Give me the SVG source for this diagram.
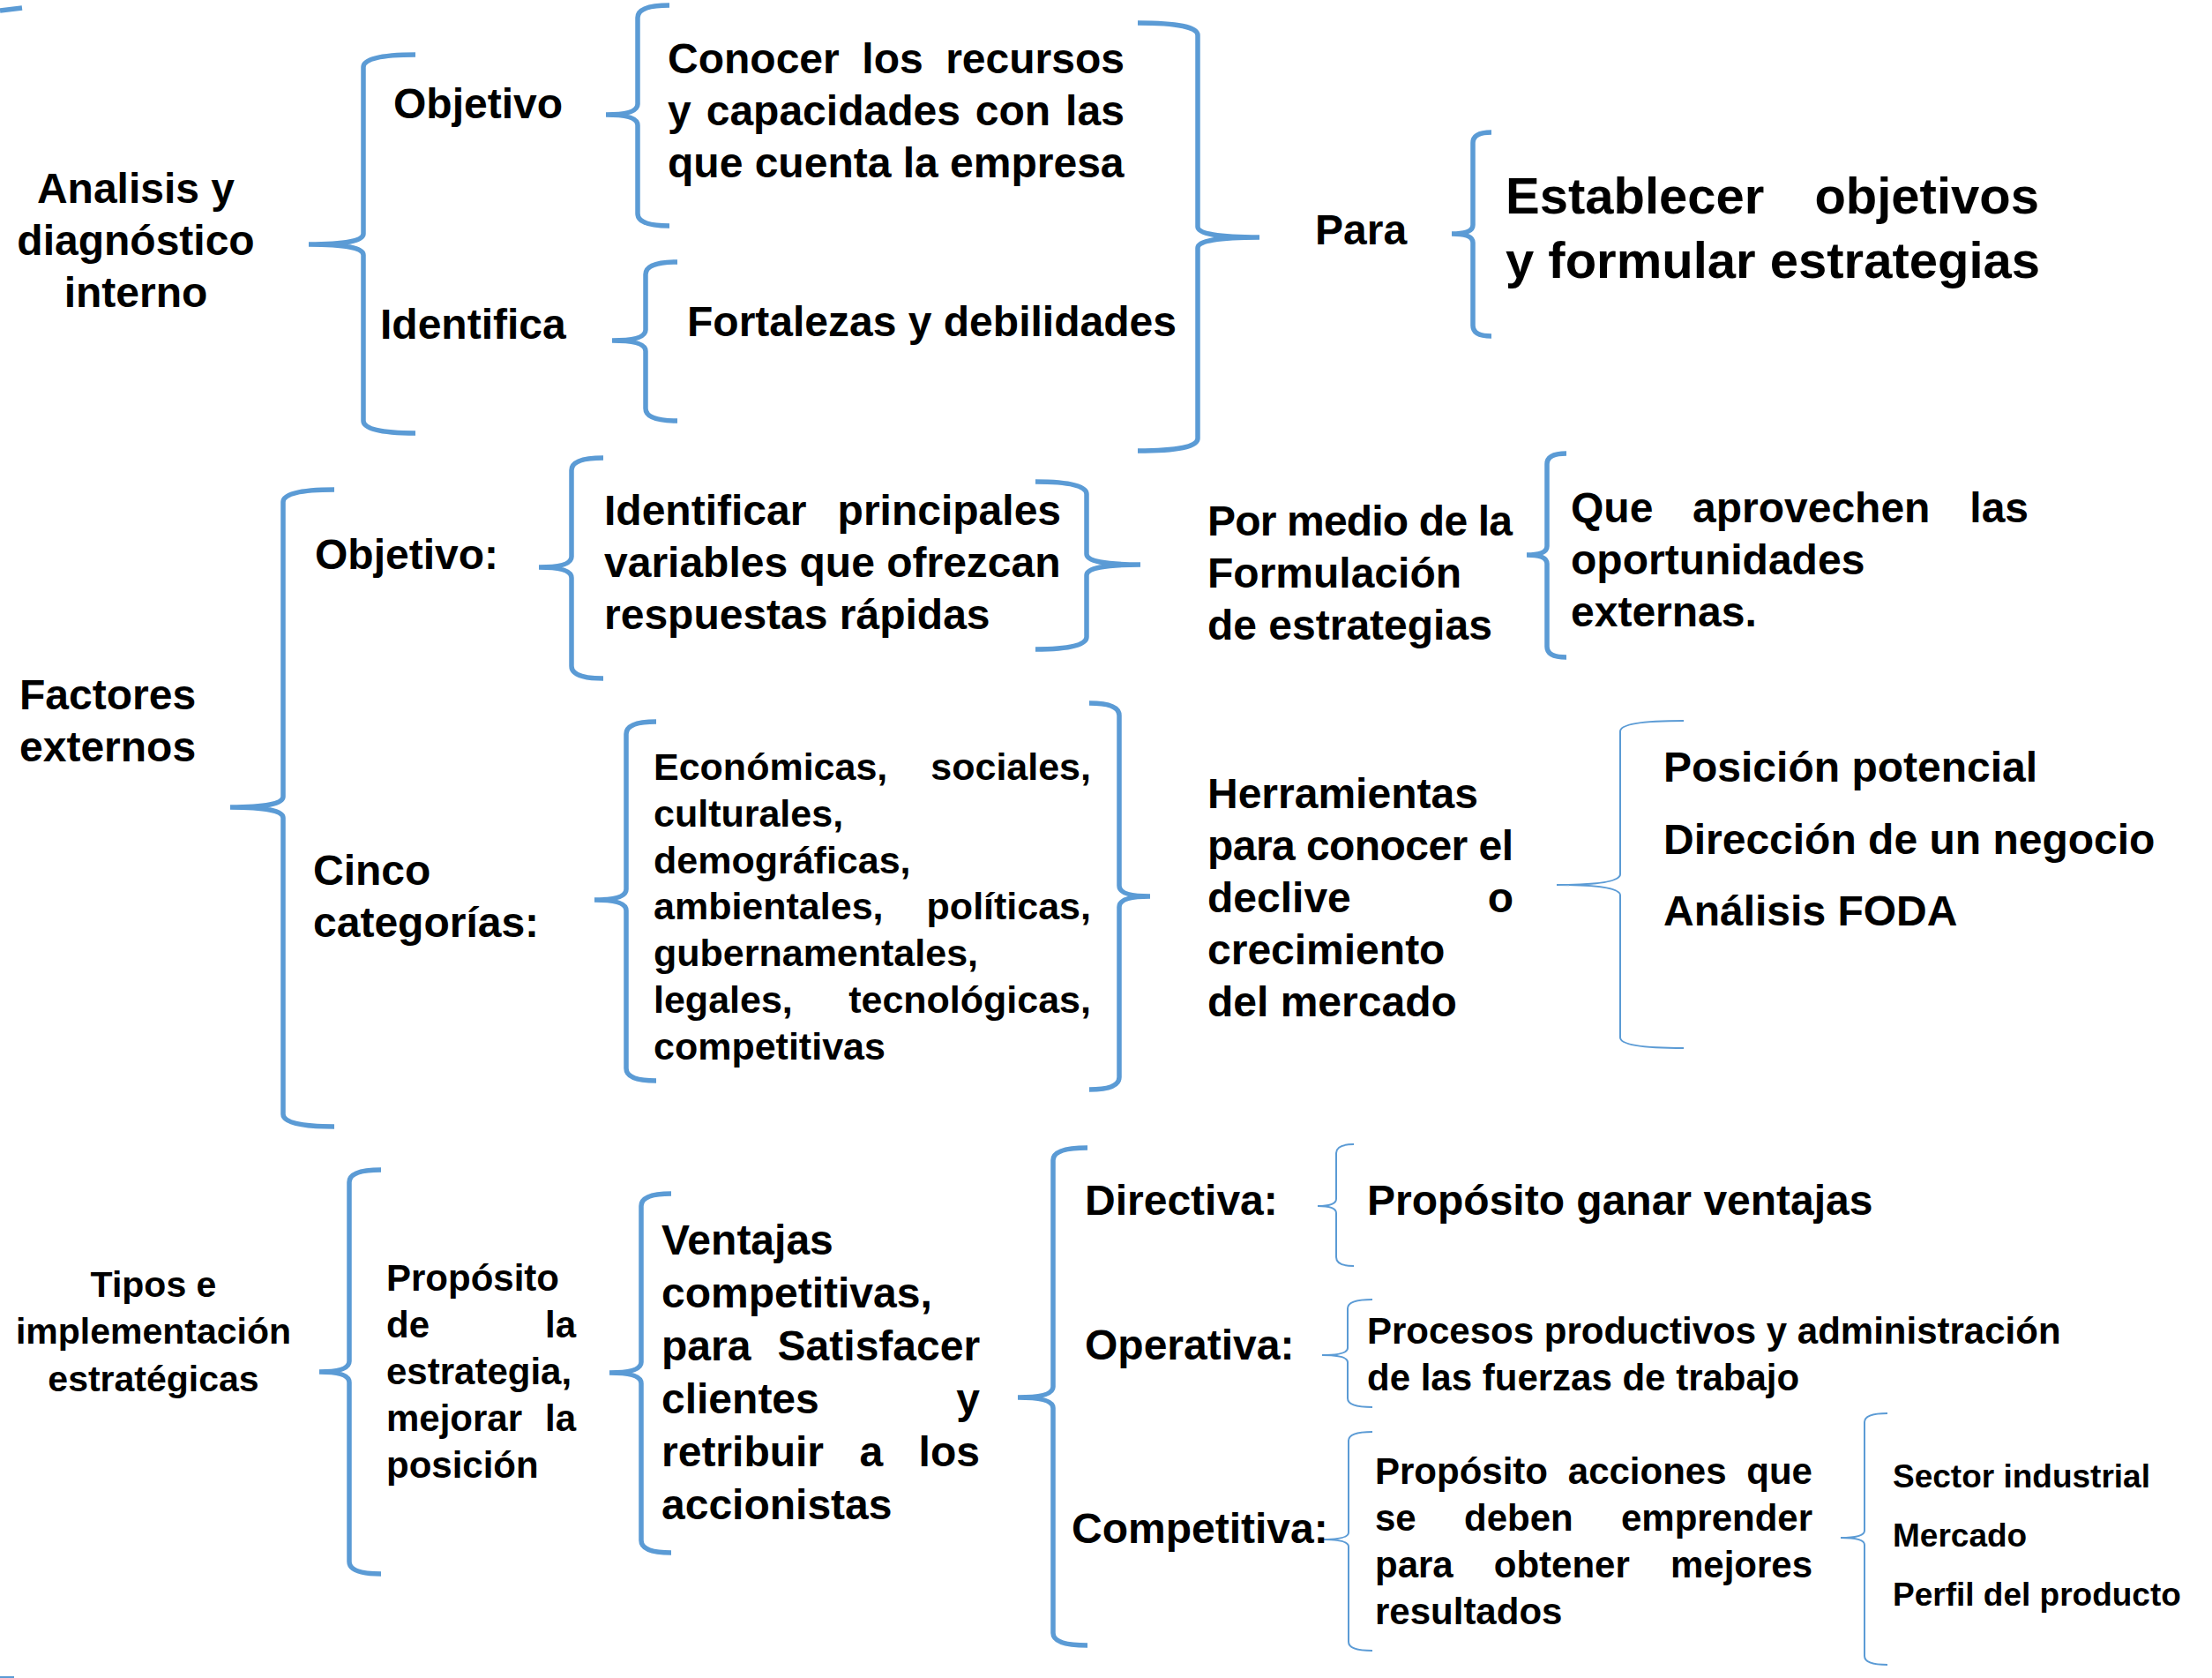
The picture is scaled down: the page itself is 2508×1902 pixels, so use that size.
<svg xmlns="http://www.w3.org/2000/svg" width="2508" height="1902" viewBox="0 0 2508 1902">
<style>
text{font-family:"Liberation Sans",Arial,sans-serif;font-weight:bold;fill:#000}
.f58{font-size:58px}.f48{font-size:48px}.f43{font-size:43px}.f42{font-size:42px}.f41{font-size:41px}.f37{font-size:37px}
.mid{text-anchor:middle}
.thick{fill:none;stroke:#5B9BD5;stroke-width:5.5;stroke-linecap:butt}
.thin{fill:none;stroke:#5B9BD5;stroke-width:2;stroke-linecap:butt}
</style>
<rect width="2508" height="1902" fill="#fff"/>
<g id="connectors">
<path class="thick" d="M0,12 L25,9"/>
<path class="thin" d="M0,1901 L16,1901"/>
<!-- B1 Analisis -->
<path class="thick" d="M471,62 Q412,62 412,76 L412,265 Q412,277 350,277 M471,491 Q412,491 412,477 L412,289 Q412,277 350,277"/>
<!-- B2 Objetivo -->
<path class="thick" d="M759,6 Q723,6 723,20 L723,118 Q723,130 687,130 M759,256 Q723,256 723,242 L723,142 Q723,130 687,130"/>
<!-- B3 Identifica -->
<path class="thick" d="M768,297 Q732,297 732,311 L732,374 Q732,386 694,386 M768,477 Q732,477 732,463 L732,398 Q732,386 694,386"/>
<!-- B4 closing -->
<path class="thick" d="M1290,26 Q1358,26 1358,40 L1358,257 Q1358,269 1428,269 M1290,511 Q1358,511 1358,497 L1358,281 Q1358,269 1428,269"/>
<!-- B5 Para -->
<path class="thick" d="M1691,150 Q1670,150 1670,162 L1670,255 Q1670,265 1646,265 M1691,381 Q1670,381 1670,369 L1670,275 Q1670,265 1646,265"/>
<!-- B6 Factores -->
<path class="thick" d="M379,555 Q321,555 321,569 L321,903 Q321,915 261,915 M379,1277 Q321,1277 321,1263 L321,927 Q321,915 261,915"/>
<!-- B7 Objetivo: -->
<path class="thick" d="M684,519 Q648,519 648,533 L648,631 Q648,643 611,643 M684,769 Q648,769 648,755 L648,655 Q648,643 611,643"/>
<!-- B8 closing Identificar -->
<path class="thick" d="M1174,546 Q1232,546 1232,560 L1232,628 Q1232,640 1293,640 M1174,736 Q1232,736 1232,722 L1232,652 Q1232,640 1293,640"/>
<!-- B9 Que -->
<path class="thick" d="M1776,514 Q1754,514 1754,526 L1754,619 Q1754,629 1731,629 M1776,745 Q1754,745 1754,733 L1754,639 Q1754,629 1731,629"/>
<!-- B10 Economicas -->
<path class="thick" d="M744,818 Q710,818 710,832 L710,1008 Q710,1020 674,1020 M744,1225 Q710,1225 710,1211 L710,1032 Q710,1020 674,1020"/>
<!-- B11 closing Economicas -->
<path class="thick" d="M1235,797 Q1269,797 1269,811 L1269,1004 Q1269,1016 1304,1016 M1235,1235 Q1269,1235 1269,1221 L1269,1028 Q1269,1016 1304,1016"/>
<!-- B12 Posicion thin -->
<path class="thin" d="M1909,817 Q1837,817 1837,829 L1837,991 Q1837,1003 1765,1003 M1909,1188 Q1837,1188 1837,1176 L1837,1015 Q1837,1003 1765,1003"/>
<!-- B13 Tipos -->
<path class="thick" d="M432,1326 Q396,1326 396,1340 L396,1543 Q396,1555 362,1555 M432,1784 Q396,1784 396,1770 L396,1567 Q396,1555 362,1555"/>
<!-- B14 Proposito -->
<path class="thick" d="M761,1353 Q727,1353 727,1367 L727,1544 Q727,1556 691,1556 M761,1760 Q727,1760 727,1746 L727,1568 Q727,1556 691,1556"/>
<!-- B15 Directiva group -->
<path class="thick" d="M1233,1301 Q1194,1301 1194,1315 L1194,1572 Q1194,1584 1154,1584 M1233,1865 Q1194,1865 1194,1851 L1194,1596 Q1194,1584 1154,1584"/>
<!-- B16 Directiva thin -->
<path class="thin" d="M1535,1297 Q1515,1297 1515,1307 L1515,1359 Q1515,1367 1494,1367 M1535,1435 Q1515,1435 1515,1425 L1515,1375 Q1515,1367 1494,1367"/>
<!-- B17 Operativa thin -->
<path class="thin" d="M1556,1473 Q1528,1473 1528,1483 L1528,1528 Q1528,1536 1499,1536 M1556,1595 Q1528,1595 1528,1585 L1528,1544 Q1528,1536 1499,1536"/>
<!-- B18 Competitiva thin -->
<path class="thin" d="M1556,1623 Q1529,1623 1529,1633 L1529,1737 Q1529,1745 1500,1745 M1556,1871 Q1529,1871 1529,1861 L1529,1753 Q1529,1745 1500,1745"/>
<!-- B19 Sector thin -->
<path class="thin" d="M2140,1602 Q2114,1602 2114,1612 L2114,1735 Q2114,1743 2087,1743 M2140,1887 Q2114,1887 2114,1877 L2114,1751 Q2114,1743 2087,1743"/>
</g>

<g id="n-analisis"><text class="f48 mid"><tspan x="154" y="230">Analisis y</tspan><tspan x="154" y="289">diagnóstico</tspan><tspan x="154" y="348">interno</tspan></text></g>
<g id="n-objetivo1"><text class="f48" x="446" y="134">Objetivo</text></g>
<g id="n-identifica"><text class="f48" x="431" y="384">Identifica</text></g>
<g id="n-conocer"><text class="f48"><tspan x="757" y="83">Conocer</tspan><tspan x="977.3" y="83">los</tspan><tspan x="1072.2" y="83">recursos</tspan><tspan x="757" y="142">y</tspan><tspan x="800.7" y="142">capacidades</tspan><tspan x="1105.8" y="142">con</tspan><tspan x="1208.1" y="142">las</tspan><tspan x="757" y="201">que cuenta la empresa</tspan></text></g>
<g id="n-fortalezas"><text class="f48" x="779" y="381">Fortalezas y debilidades</text></g>
<g id="n-para"><text class="f48" x="1491" y="277">Para</text></g>
<g id="n-establecer"><text class="f58"><tspan x="1707" y="242">Establecer</tspan><tspan x="2057.4" y="242">objetivos</tspan><tspan x="1707" y="315">y formular estrategias</tspan></text></g>

<g id="n-factores"><text class="f48"><tspan x="22" y="804">Factores</tspan><tspan x="22" y="863">externos</tspan></text></g>
<g id="n-objetivo2"><text class="f48" x="357" y="645">Objetivo:</text></g>
<g id="n-identificar"><text class="f48"><tspan x="685" y="595">Identificar</tspan><tspan x="949.6" y="595">principales</tspan><tspan x="685" y="654">variables que ofrezcan</tspan><tspan x="685" y="713">respuestas rápidas</tspan></text></g>
<g id="n-pormedio"><text class="f48"><tspan x="1369" y="607" textLength="346" lengthAdjust="spacing">Por medio de la</tspan><tspan x="1369" y="666">Formulación</tspan><tspan x="1369" y="725">de estrategias</tspan></text></g>
<g id="n-que"><text class="f48"><tspan x="1781" y="592">Que</tspan><tspan x="1919" y="592">aprovechen</tspan><tspan x="2233.3" y="592">las</tspan><tspan x="1781" y="651">oportunidades</tspan><tspan x="1781" y="710">externas.</tspan></text></g>
<g id="n-cinco"><text class="f48"><tspan x="355" y="1003">Cinco</tspan><tspan x="355" y="1062">categorías:</tspan></text></g>
<g id="n-economicas"><text class="f43"><tspan x="741" y="884">Económicas,</tspan><tspan x="1055.3" y="884">sociales,</tspan><tspan x="741" y="937">culturales,</tspan><tspan x="741" y="990">demográficas,</tspan><tspan x="741" y="1042">ambientales,</tspan><tspan x="1050.6" y="1042">políticas,</tspan><tspan x="741" y="1095">gubernamentales,</tspan><tspan x="741" y="1148">legales,</tspan><tspan x="962.2" y="1148">tecnológicas,</tspan><tspan x="741" y="1201">competitivas</tspan></text></g>
<g id="n-herramientas"><text class="f48"><tspan x="1369" y="916">Herramientas</tspan><tspan x="1369" y="975" textLength="347" lengthAdjust="spacing">para conocer el</tspan><tspan x="1369" y="1034">declive</tspan><tspan x="1686.7" y="1034">o</tspan><tspan x="1369" y="1093">crecimiento</tspan><tspan x="1369" y="1152">del mercado</tspan></text></g>
<g id="n-posicion"><text class="f48"><tspan x="1886" y="886">Posición potencial</tspan><tspan x="1886" y="968">Dirección de un negocio</tspan><tspan x="1886" y="1049">Análisis FODA</tspan></text></g>

<g id="n-tipos"><text class="f41 mid"><tspan x="174" y="1470">Tipos e</tspan><tspan x="174" y="1523">implementación</tspan><tspan x="174" y="1577">estratégicas</tspan></text></g>
<g id="n-proposito"><text class="f42"><tspan x="438" y="1463">Propósito</tspan><tspan x="438" y="1516">de</tspan><tspan x="618" y="1516">la</tspan><tspan x="438" y="1569">estrategia,</tspan><tspan x="438" y="1622">mejorar</tspan><tspan x="618" y="1622">la</tspan><tspan x="438" y="1675">posición</tspan></text></g>
<g id="n-ventajas"><text class="f48"><tspan x="750" y="1422">Ventajas</tspan><tspan x="750" y="1482">competitivas,</tspan><tspan x="750" y="1542">para</tspan><tspan x="881.6" y="1542">Satisfacer</tspan><tspan x="750" y="1602">clientes</tspan><tspan x="1084.3" y="1602">y</tspan><tspan x="750" y="1662">retribuir</tspan><tspan x="974.5" y="1662">a</tspan><tspan x="1041.6" y="1662">los</tspan><tspan x="750" y="1722">accionistas</tspan></text></g>
<g id="n-directiva"><text class="f48" x="1230" y="1377">Directiva:</text></g>
<g id="n-operativa"><text class="f48" x="1230" y="1541">Operativa:</text></g>
<g id="n-competitiva"><text class="f48" x="1215" y="1749">Competitiva:</text></g>
<g id="n-ganar"><text class="f48" x="1550" y="1377">Propósito ganar ventajas</text></g>
<g id="n-procesos"><text class="f42"><tspan x="1550" y="1523">Procesos productivos y administración</tspan><tspan x="1550" y="1576">de las fuerzas de trabajo</tspan></text></g>
<g id="n-acciones"><text class="f42"><tspan x="1559" y="1682">Propósito</tspan><tspan x="1777.8" y="1682">acciones</tspan><tspan x="1980.3" y="1682">que</tspan><tspan x="1559" y="1735">se</tspan><tspan x="1660" y="1735">deben</tspan><tspan x="1838" y="1735">emprender</tspan><tspan x="1559" y="1788">para</tspan><tspan x="1693.8" y="1788">obtener</tspan><tspan x="1894" y="1788">mejores</tspan><tspan x="1559" y="1841">resultados</tspan></text></g>
<g id="n-sector"><text class="f37"><tspan x="2146" y="1686">Sector industrial</tspan><tspan x="2146" y="1753">Mercado</tspan><tspan x="2146" y="1820">Perfil del producto</tspan></text></g>
</svg>
